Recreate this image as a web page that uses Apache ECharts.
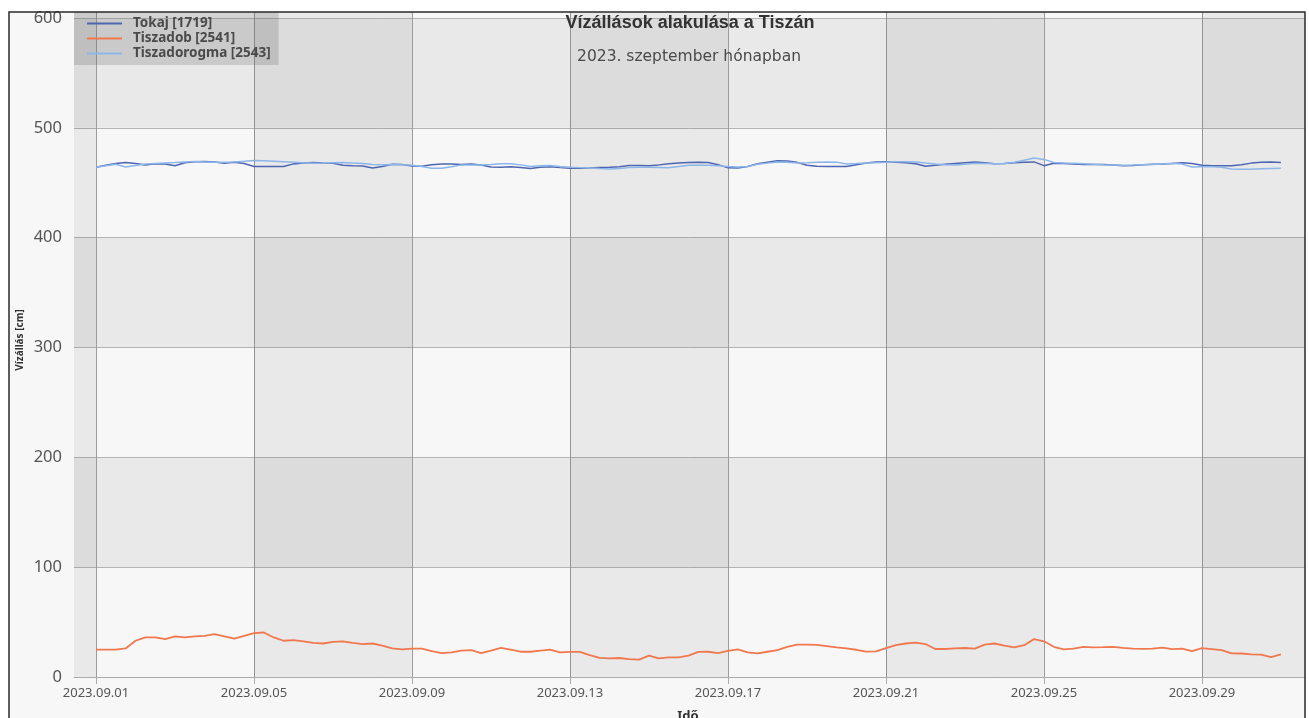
<!DOCTYPE html>
<html><head><meta charset="utf-8">
<script src="https://cdn.jsdelivr.net/npm/echarts@6/dist/echarts.min.js"></script>
<style>html,body{margin:0;padding:0;background:#fff}#c{width:1309px;height:718px}</style>
</head><body><div id="c"></div>
<script>
// ---- data (day 0 = 2023-09-01 00:00, one value every 6 hours) ----
const seriesNames = ['Tokaj [1719]', 'Tiszadob [2541]', 'Tiszadorogma [2543]'];
const stepDays = 0.25;
const tokaj = [
  464.2,466,467.5,468.4, 467.6,466.2,467.3,467, 465.5,468.2,469.1,469.3, 469,467.8,468.6,467.6,
  464.8,464.8,464.8,464.8, 467.2,467.9,468.5,468.1, 467.8,466,465.4,465.2, 463.4,464.8,466.8,466.6,
  465.3,465,466.4,467.2, 467.2,466.6,467,466.2, 464.4,464.2,464.5,464, 463.1,464.2,464.6,463.8,
  463.3,463.3,463.5,463.9, 464.1,464.7,465.7,465.8, 465.5,466.3,467.4,468, 468.5,468.7,468.5,466.5,
  463.6,463.5,464.8,467.3, 468.8,470.1,469.8,468.6, 466,465.1,464.8,464.8, 464.8,466.5,468.1,469,
  469.2,468.8,468.3,467.3, 465,465.9,466.8,467.6, 468.3,469,468.2,467.3, 467.6,468.2,468.8,469,
  465.6,467.8,467.5,467.2, 466.7,466.6,466.6,466.3, 465.6,465.8,466.4,466.8, 467.1,467.6,468.2,467.5,
  465.9,465.6,465.4,465.4, 466.5,467.9,468.7,469, 468.5
];
const tiszadob = [
  25,25,25,26, 33,36,36,34.5, 37,36,37,37.5, 39,37,35,37.5,
  40,40.5,36,33, 33.5,32.5,31,30.5, 32,32.5,31,30, 30.5,28.5,26,25.2,
  25.8,25.8,23.5,21.8, 22.5,24,24.5,21.8, 24,26.5,25,23, 23,24,25,22.5,
  22.8,22.8,20,17.5, 17,17.3,16.2,15.8, 19.5,17,17.8,17.9, 19.5,22.8,23,21.8,
  23.7,25.2,22.5,21.5, 23,24.5,27.5,29.4, 29.4,29.2,28.2,27, 26,24.8,23.1,23.3,
  26.2,29,30.5,31.3, 30,25.5,25.5,26, 26.4,25.8,29.5,30.5, 28.5,27,29,34.5,
  32.5,27.5,25.2,25.8, 27.5,27,27.2,27.5, 26.5,25.8,25.6,25.8, 26.8,25.4,25.8,23.5,
  26.2,25.4,24.5,21.6, 21.4,20.6,20.3,18, 20.6
];
const tiszadorogma = [
  464.2,465.5,466.8,464.3, 465.8,467,467.6,468.1, 468.5,469,469.3,469, 468.6,468.6,468.9,469.5,
  470.3,470.1,469.7,469.2, 468.7,468.2,467.8,468, 468.3,468.5,468.1,467.6, 466.7,466.4,466.6,466.4,
  466,464.8,463.2,463.2, 464.5,466.3,466.3,466.2, 466.6,467.3,467.4,466.3, 464.8,465.6,465.7,464.9,
  464.2,463.8,463.4,462.9, 462.5,462.9,463.8,464.2, 464.2,464,463.7,464.8, 466,466,466,465.5,
  464.8,464.3,464.9,466.8, 467.9,468.9,468.6,467.9, 468.2,468.6,468.9,468.8, 467.2,467.5,467.9,468.3,
  468.7,469.2,469.2,469, 468,467.2,466.5,466.2, 466.9,467.7,467.6,467.3, 467.5,468.6,470.5,472.6,
  471.3,468.5,468.1,467.8, 467.4,466.9,466.5,466.3, 466,466.1,466.4,466.6, 467.2,467.8,467,464.4,
  464.6,464.6,464.1,462.6, 462.4,462.4,462.8,463.1, 463.3
];
const tickDays = [0, 4, 8, 12, 16, 20, 24, 28];
const tickLabels = ['2023.09.01','2023.09.05','2023.09.09','2023.09.13','2023.09.17','2023.09.21','2023.09.25','2023.09.29'];
const yTicks = [0, 100, 200, 300, 400, 500, 600];
const titleText = 'Vízállások alakulása a Tiszán';
const subtitleText = '2023. szeptember hónapban';
const yName = 'Vízállás [cm]';
const xName = 'Idő';
const colors = ['#4e66b0', '#f0784f', '#8cb6ea'];

// ---- chart ----
const X_MIN = -0.557, X_MAX = 30.61, Y_MAX = 605.5;
const toPairs = arr => arr.map((v, i) => [i * stepDays, v]);
const chart = echarts.init(document.getElementById('c'), null, {renderer: 'canvas'});
const option = {
  backgroundColor: '#ffffff',
  animation: false,
  color: colors,
  graphic: [
    {type: 'rect', z: -10, shape: {x: 9, y: 12, width: 1296, height: 720}, style: {fill: '#f7f7f7'}},
    {type: 'rect', z: 100, shape: {x: 9, y: 12, width: 1296, height: 720}, style: {fill: 'none', stroke: '#2a2a2a', lineWidth: 1.5}},
    {type: 'text', z: 100, x: 690, y: 23, style: {text: titleText, font: 'bold 18px "Liberation Sans"', fill: '#333', textAlign: 'center', textVerticalAlign: 'middle'}},
    {type: 'text', z: 100, x: 689, y: 57, style: {text: subtitleText, font: '15.5px "DejaVu Sans"', fill: '#4a4a4a', textAlign: 'center', textVerticalAlign: 'middle'}},
    {type: 'text', z: 100, x: 20, y: 340, rotation: Math.PI / 2, style: {text: yName, font: 'bold 10px "Noto Sans"', fill: '#333', textAlign: 'center', textVerticalAlign: 'middle'}},
    {type: 'text', z: 100, x: 688, y: 716, style: {text: xName, font: 'bold 13px "Noto Sans"', fill: '#333', textAlign: 'center', textVerticalAlign: 'middle'}}
  ],
  legend: {
    orient: 'vertical', left: 74, top: 12, padding: [4, 8, 4, 13], itemGap: 0,
    itemWidth: 35, itemHeight: 2, icon: 'rect',
    backgroundColor: 'rgba(90,90,90,0.22)',
    textStyle: {fontFamily: 'Noto Sans', fontWeight: 'bold', fontSize: 13.5, color: '#4a4a4a', lineHeight: 15, padding: [0, 0, 0, 6]},
    data: seriesNames
  },
  grid: {left: 74, right: 4, top: 12, bottom: 41, containLabel: false},
  xAxis: [{
    type: 'value', min: X_MIN, max: X_MAX,
    axisLine: {show: true, lineStyle: {color: '#aaaaaa'}},
    axisTick: {show: true, length: 7, lineStyle: {color: '#aaaaaa'}, customValues: tickDays},
    axisLabel: {customValues: tickDays, formatter: v => { const k = tickDays.indexOf(Math.round(v)); return k >= 0 ? tickLabels[k] : ''; },
      fontFamily: 'Noto Sans', fontSize: 13, color: '#555', margin: 10},
    splitLine: {show: true, lineStyle: {color: '#9c9c9c', width: 1}},
    splitArea: {show: false}
  }, {
    type: 'value', min: X_MIN, max: X_MAX, position: 'top',
    axisLine: {show: false}, axisTick: {show: false, customValues: [X_MIN + 1e-9].concat(tickDays, [X_MAX - 1e-9])},
    axisLabel: {show: false}, splitLine: {show: false},
    splitArea: {show: true, areaStyle: {color: ['rgba(0,0,0,0.055)', 'rgba(0,0,0,0)']}}
  }],
  yAxis: {
    type: 'value', min: 0, max: Y_MAX,
    axisLine: {show: false},
    axisTick: {show: true, length: 8, lineStyle: {color: '#aaaaaa'}, customValues: yTicks},
    axisLabel: {customValues: yTicks, fontFamily: 'Noto Sans', fontSize: 16.5, color: '#555', margin: 12},
    splitLine: {show: true, lineStyle: {color: '#b4b4b4'}},
    splitArea: {show: true, areaStyle: {color: ['rgba(0,0,0,0)', 'rgba(0,0,0,0.055)']}}
  },
  series: [
    {name: seriesNames[0], type: 'line', data: toPairs(tokaj), symbol: 'none', lineStyle: {width: 1.5, color: colors[0]}, itemStyle: {color: colors[0]}},
    {name: seriesNames[1], type: 'line', data: toPairs(tiszadob), symbol: 'none', lineStyle: {width: 1.8, color: colors[1]}, itemStyle: {color: colors[1]}},
    {name: seriesNames[2], type: 'line', data: toPairs(tiszadorogma), symbol: 'none', lineStyle: {width: 1.5, color: colors[2]}, itemStyle: {color: colors[2]}}
  ]
};
chart.setOption(option);
</script></body></html>
